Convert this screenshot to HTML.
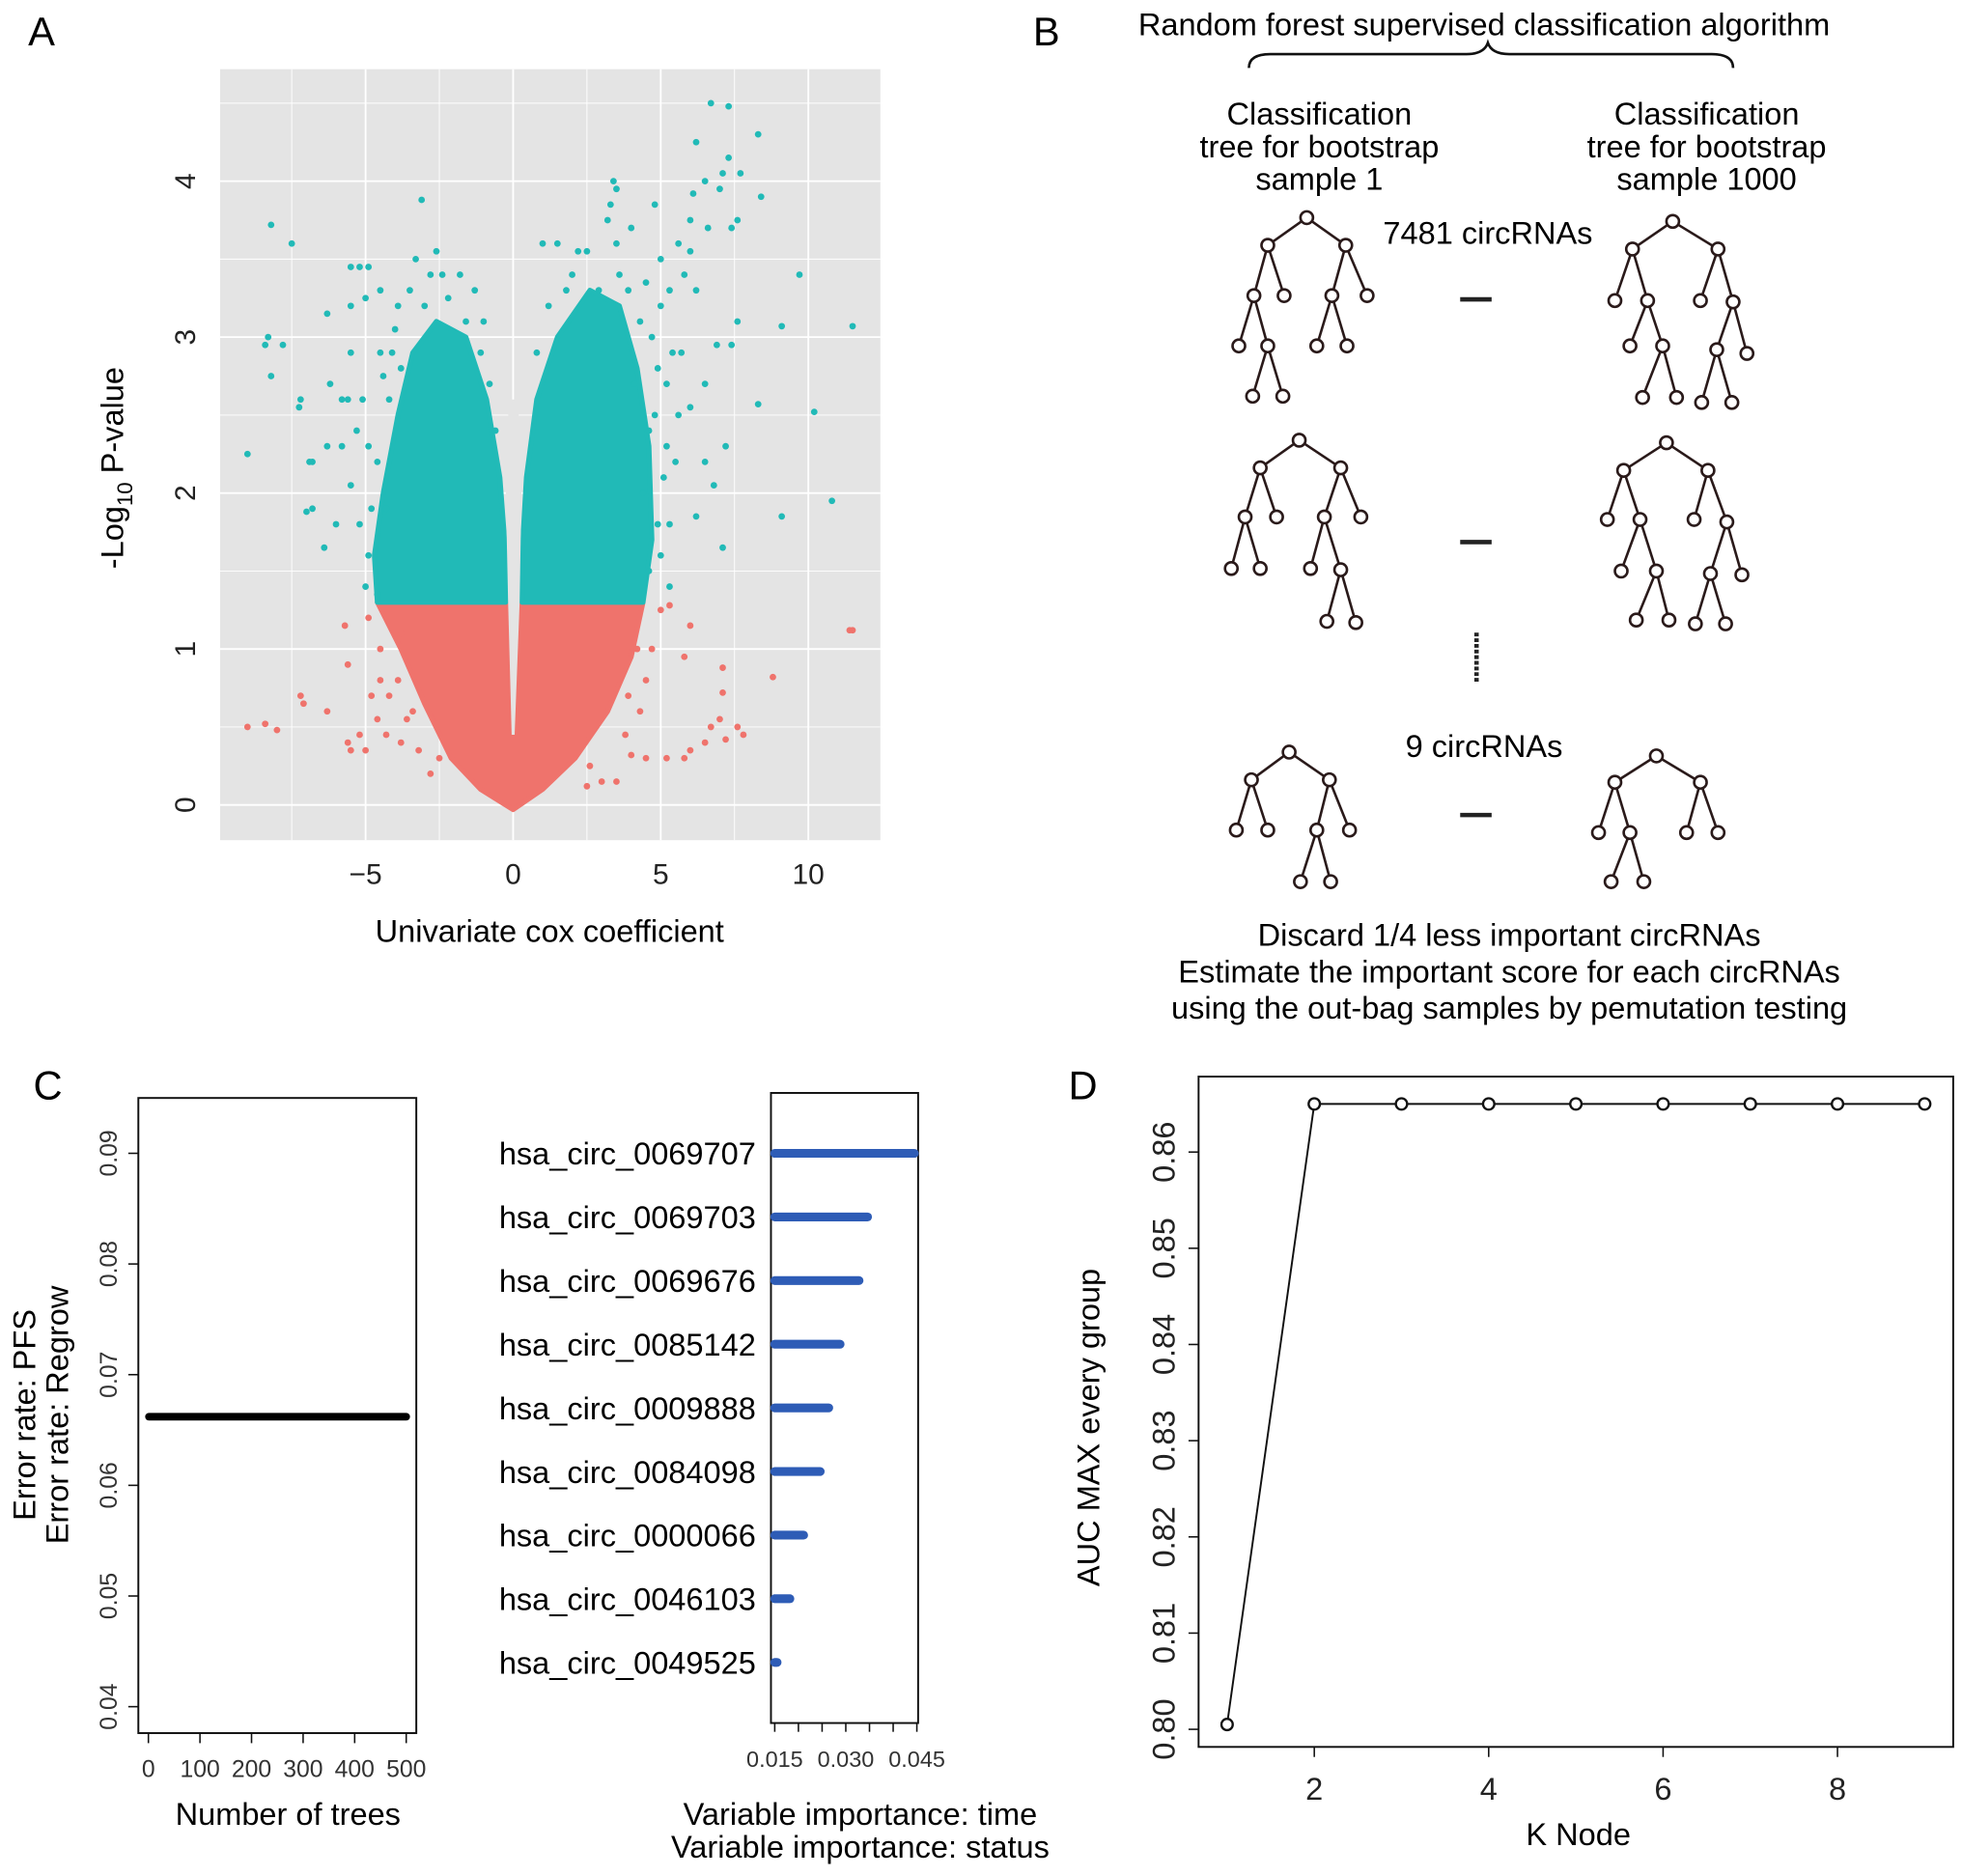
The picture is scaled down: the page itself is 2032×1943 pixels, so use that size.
<!DOCTYPE html>
<html><head><meta charset="utf-8"><style>
html,body{margin:0;padding:0;background:#fff;}
svg{display:block;font-family:"Liberation Sans",Arial,sans-serif;}
</style></head><body>
<svg id="fig" width="2032" height="1943" viewBox="0 0 1560 1491.6" xmlns="http://www.w3.org/2000/svg">
<g id="A"></g>
<g id="B"></g>
<g id="C"></g>
<g id="D"></g>
</svg>
<script>
// ---------- Panel A data ----------
const aXTicks = [-5, 0, 5, 10];
const aYTicks = [0, 1, 2, 3, 4];
const teal = [[-8.2,3.72],[-7.5,3.6],[-8.3,3.0],[-8.4,2.95],[-8.2,2.75],[-7.8,2.95],[-9,2.25],[-7.2,2.6],[-7.25,2.55],[-6.9,2.2],[-6.8,2.2],[-7,1.88],[-6.8,1.9],[-6.3,2.3],[-6.2,2.7],[-6.3,3.15],[-6.4,1.65],[-6,1.8],[-5.8,2.6],[-5.5,3.45],[-5.2,3.45],[-4.9,3.45],[-5,3.25],[-5.5,3.2],[-4.5,3.3],[-3.1,3.88],[-3.3,3.5],[-2.6,3.55],[-2.8,3.4],[-1.8,3.4],[-1.3,3.3],[-1.0,3.1],[-5.5,2.9],[-5.6,2.6],[-5.3,2.4],[-5.8,2.3],[-5.5,2.05],[-5.2,1.8],[-4.9,1.6],[-5.0,1.4],[-4.6,1.35],[-4.5,2.9],[-4,3.05],[-4.2,2.6],[-4.6,2.2],[-4.3,1.9],[-4.8,1.9],[-4.9,2.3],[-5.1,2.6],[-4.4,2.75],[-3.9,3.2],[-3.5,3.3],[-2.2,3.25],[-1.6,3.1],[-1.1,2.9],[-0.8,2.7],[-3.0,3.2],[-2.4,3.4],[-4.1,2.9],[-3.8,2.8],[-0.6,2.4],
[6.7,4.5],[7.3,4.48],[8.3,4.3],[6.2,4.25],[7.3,4.15],[6.5,4.0],[7.1,4.05],[7.7,4.05],[8.4,3.9],[6.1,3.92],[7.0,3.95],[6.0,3.75],[7.4,3.7],[7.6,3.75],[6.6,3.7],[3.4,4.0],[3.5,3.95],[3.3,3.85],[3.2,3.75],[4.8,3.85],[9.7,3.4],[11.5,3.07],[9.1,3.07],[8.3,2.57],[10.2,2.52],[10.8,1.95],[9.1,1.85],[7.1,1.65],[6.8,2.05],[6.2,1.85],[6.5,2.2],[7.2,2.3],[6.0,2.55],[6.5,2.7],[6.9,2.95],[7.6,3.1],[7.4,2.95],[6.2,3.3],[6.0,3.55],[5.8,3.4],[5.3,3.3],[4.5,3.35],[1.0,3.6],[1.5,3.6],[2.2,3.55],[2.5,3.55],[3.5,3.6],[4.0,3.7],[5.6,3.6],[5.0,3.5],[5.4,2.9],[5.7,2.9],[5.5,2.2],[5.3,1.8],[5.0,1.6],[5.3,1.4],[4.6,1.5],[4.8,2.5],[5.2,2.7],[4.4,2.0],[4.7,3.0],[3.9,3.3],[2.9,3.3],[1.8,3.3],[5.1,2.1],[4.9,1.8],[5.6,2.5],[4.3,3.1],[3.6,3.4],[4.1,2.7],[5.0,3.2],[4.9,2.8],[1.2,3.2],[0.8,2.9],[2.0,3.4],[4.6,2.4],[5.2,2.3]];
const red = [[11.5,1.12],[11.4,1.12],[8.8,0.82],[7.1,0.88],[7.1,0.72],[6.0,1.15],[5.8,0.95],[5.0,1.25],[5.3,1.28],[4.7,1.0],[7.0,0.55],[6.7,0.5],[7.6,0.5],[7.8,0.45],[7.2,0.42],[6.5,0.4],[6,0.35],[5.8,0.3],[5.2,0.3],[4.5,0.3],[4.0,0.32],[3.5,0.15],[3.0,0.15],[2.5,0.12],[-9.0,0.5],[-8.4,0.52],[-8.0,0.48],[-7.2,0.7],[-7.1,0.65],[-6.3,0.6],[-5.7,1.15],[-5.6,0.9],[-5.6,0.4],[-5.5,0.35],[-5.2,0.45],[-4.8,0.7],[-4.6,0.55],[-5.0,0.35],[-4.3,0.45],[-3.8,0.4],[-3.6,0.55],[-3.2,0.35],[-2.8,0.2],[-4.5,0.8],[-4.5,1.0],[-3.8,1.1],[-4.9,1.2],[4.3,0.6],[3.8,0.45],[-4.2,0.7],[-3.9,0.8],[-3.4,0.6],[4.5,0.8],[4.2,1.0],[3.9,0.7],[-2.5,0.3],[2.6,0.25]];
// dense cloud envelopes (data units)
const tealLeftCloud = [[-0.25,1.3],[-4.6,1.3],[-4.7,1.6],[-4.4,2.0],[-3.9,2.5],[-3.4,2.9],[-2.6,3.1],[-1.6,3.0],[-0.9,2.6],[-0.45,2.1],[-0.25,1.6]];
const tealRightCloud = [[0.3,1.3],[4.4,1.3],[4.7,1.7],[4.6,2.3],[4.2,2.8],[3.6,3.2],[2.6,3.3],[1.5,3.0],[0.8,2.6],[0.45,2.1],[0.3,1.6]];
const redCloud = [[-4.6,1.3],[-3.8,1.0],[-3.0,0.65],[-2.1,0.3],[-1.1,0.1],[0,-0.03],[1.0,0.1],[2.1,0.3],[3.2,0.6],[4.0,0.95],[4.4,1.3]];
const gapWedge = [[-0.17,1.3],[-0.05,0.45],[0.05,0.45],[0.22,1.3],[0.3,2.2],[0.15,2.6],[-0.15,2.6],[-0.25,2.0]];

// ---------- Panel C data ----------
const cTreeTicks = [0,100,200,300,400,500];
const cErrTicks = [0.04,0.05,0.06,0.07,0.08,0.09];
const cErrTrees = [1,500];
const cErrValues = [0.0662,0.0662];
const varNames = ["hsa_circ_0069707","hsa_circ_0069703","hsa_circ_0069676","hsa_circ_0085142","hsa_circ_0009888","hsa_circ_0084098","hsa_circ_0000066","hsa_circ_0046103","hsa_circ_0049525"];
const varImportance = [0.045,0.0346,0.0328,0.0288,0.0264,0.0246,0.0211,0.0182,0.0155];
const impTicks = [0.015,0.020,0.025,0.030,0.035,0.040,0.045];
const impTickLabels = ["0.015","","","0.030","","","0.045"];

// ---------- Panel D data ----------
const kNodes = [1,2,3,4,5,6,7,8,9];
const aucMax = [0.8005,0.865,0.865,0.865,0.865,0.865,0.865,0.865,0.865];
const dXTicks = [2,4,6,8];
const dYTicks = [0.80,0.81,0.82,0.83,0.84,0.85,0.86];

const NS="http://www.w3.org/2000/svg";
function el(parent,tag,attrs,text){const e=document.createElementNS(NS,tag);for(const k in attrs)e.setAttribute(k,attrs[k]);if(text!==undefined)e.textContent=text;parent.appendChild(e);return e;}

// ===== Panel A =====
(function(){
const g=document.getElementById('A');
const xA=v=>408+v*23.47, yA=v=>640-v*124;
const L=175,R=700,T=55,Bt=668;
let t=el(g,'text',{x:33,y:36,'font-size':32,'text-anchor':'middle'},'A');

let bg=el(g,'rect',{x:L,y:T,width:R-L,height:Bt-T,fill:'#E4E4E4'});

for(let v=-7.5;v<=12.5;v+=2.5){const x=xA(v);if(x<L||x>R)continue;const major=Number.isInteger(v/5);
 const l=el(g,'line',{x1:x,x2:x,y1:T,y2:Bt,stroke:'#fff','stroke-width':major?1.4:0.7});
 }
for(let v=0;v<=4.5;v+=0.5){const y=yA(v);const major=Number.isInteger(v);
 const l=el(g,'line',{x1:L,x2:R,y1:y,y2:y,stroke:'#fff','stroke-width':major?1.4:0.7});
 }
const poly=(arr,fill,name)=>{const p=el(g,'polygon',{points:arr.map(d=>xA(d[0])+','+yA(d[1])).join(' '),fill:fill,stroke:fill,'stroke-width':4,'stroke-linejoin':'round'});
 };
poly(redCloud,'#EF736C','nonsignificant-cloud');
poly(tealLeftCloud,'#21BAB7','significant-cloud-left');
poly(tealRightCloud,'#21BAB7','significant-cloud-right');
const gp=el(g,'polygon',{points:gapWedge.map(d=>xA(d[0])+','+yA(d[1])).join(' '),fill:'#E4E4E4'});

teal.forEach(d=>{const c=el(g,'circle',{cx:xA(d[0]),cy:yA(d[1]),r:2.6,fill:'#21BAB7'});
 });
red.forEach(d=>{const c=el(g,'circle',{cx:xA(d[0]),cy:yA(d[1]),r:2.6,fill:'#EF736C'});
 });
aXTicks.forEach(v=>{const tx=el(g,'text',{x:xA(v),y:703,'font-size':23,'text-anchor':'middle',fill:'#222'},v<0?'\u2212'+Math.abs(v):String(v));
 });
aYTicks.forEach(v=>{const tx=el(g,'text',{x:0,y:0,'font-size':23,'text-anchor':'middle',fill:'#222',transform:`translate(155,${yA(v)}) rotate(-90)`},String(v));
 });
t=el(g,'text',{x:437,y:749,'font-size':25,'text-anchor':'middle'},'Univariate cox coefficient');

t=el(g,'text',{x:0,y:0,'font-size':25,'text-anchor':'middle',transform:'translate(98,372) rotate(-90)'});

t.innerHTML='-Log<tspan font-size="17" dy="7">10</tspan><tspan dy="-7"> P-value</tspan>';
})();

// ===== Panel B =====
const trees=[
 [[1039,173,-1],[1008,195,0],[1070,195,0],[997,235,1],[1021,235,1],[1059,235,2],[1087,235,2],[985,275,3],[1008,275,3],[996,315,8],[1020,315,8],[1047,275,5],[1071,275,5]],
 [[1330,176,-1],[1298,198,0],[1366,198,0],[1284,239,1],[1310,239,1],[1352,239,2],[1378,240,2],[1296,275,4],[1322,275,4],[1306,316,8],[1333,316,8],[1365,278,6],[1389,281,6],[1353,320,11],[1377,320,11]],
 [[1033,350,-1],[1002,372,0],[1066,372,0],[990,411,1],[1015,411,1],[1053,411,2],[1082,411,2],[979,452,3],[1002,452,3],[1042,452,5],[1066,453,5],[1055,494,10],[1078,495,10]],
 [[1325,352,-1],[1291,374,0],[1358,374,0],[1278,413,1],[1304,413,1],[1347,413,2],[1373,415,2],[1289,454,4],[1317,454,4],[1360,456,6],[1385,457,6],[1301,493,8],[1327,493,8],[1348,496,9],[1372,496,9]],
 [[1025,598,-1],[995,620,0],[1057,620,0],[983,660,1],[1008,660,1],[1047,660,2],[1073,660,2],[1034,701,5],[1058,701,5]],
 [[1317,601,-1],[1284,622,0],[1352,622,0],[1271,662,1],[1296,662,1],[1341,662,2],[1366,662,2],[1281,701,4],[1307,701,4]]
];
(function(){
const g=document.getElementById('B');
let t=el(g,'text',{x:832,y:36,'font-size':32,'text-anchor':'middle'},'B');

t=el(g,'text',{x:1180,y:28,'font-size':25,'text-anchor':'middle'},'Random forest supervised classification algorithm');

const br=el(g,'path',{d:'M993,54 Q993,43 1010,43 L1166,43 Q1180,43 1183,34 Q1186,43 1200,43 L1361,43 Q1378,43 1378,54',fill:'none',stroke:'#111','stroke-width':2});

[[1049,'sample 1'],[1357,'sample 1000']].forEach(([cx,s])=>{
 ['Classification','tree for bootstrap',s].forEach((line,i)=>{const tx=el(g,'text',{x:cx,y:99+i*26,'font-size':25,'text-anchor':'middle'},line);
 });});
t=el(g,'text',{x:1183,y:194,'font-size':25,'text-anchor':'middle'},'7481 circRNAs');

t=el(g,'text',{x:1180,y:602,'font-size':25,'text-anchor':'middle'},'9 circRNAs');

trees.forEach(tr=>{const tg=el(g,'g',{});
 
 tr.forEach(n=>{if(n[2]>=0){const p=tr[n[2]];el(tg,'line',{x1:p[0],y1:p[1],x2:n[0],y2:n[1],stroke:'#2a1a1a','stroke-width':2});}});
 tr.forEach(n=>{el(tg,'circle',{cx:n[0],cy:n[1],r:5,fill:'#fff',stroke:'#2a1a1a','stroke-width':2});});});
[238,431,648].forEach(y=>{const d=el(g,'line',{x1:1161,x2:1186,y1:y,y2:y,stroke:'#222','stroke-width':3.5});
 });
const vd=el(g,'line',{x1:1174,x2:1174,y1:503,y2:542,stroke:'#222','stroke-width':3.5,'stroke-dasharray':'3 1.5'});

['Discard 1/4 less important circRNAs','Estimate the important score for each circRNAs','using the out-bag samples by pemutation testing'].forEach((s,i)=>{
 const tx=el(g,'text',{x:1200,y:752+i*29,'font-size':25,'text-anchor':'middle'},s);
 });
})();

// ===== Panel C =====
(function(){
const g=document.getElementById('C');
let t=el(g,'text',{x:38,y:874,'font-size':32,'text-anchor':'middle'},'C');

const xT=v=>118+v*(323-118)/500, yE=v=>917+(0.09-v)*8800;
let b=el(g,'rect',{x:110,y:873,width:221,height:505,fill:'none',stroke:'#111','stroke-width':1.5});

cTreeTicks.forEach(v=>{el(g,'line',{x1:xT(v),x2:xT(v),y1:1378,y2:1386,stroke:'#111','stroke-width':1.2});
 const tx=el(g,'text',{x:xT(v),y:1413,'font-size':19,'text-anchor':'middle',fill:'#333'},String(v));
 });
cErrTicks.forEach(v=>{el(g,'line',{x1:102,x2:110,y1:yE(v),y2:yE(v),stroke:'#111','stroke-width':1.2});
 const tx=el(g,'text',{x:0,y:0,'font-size':19,'text-anchor':'middle',fill:'#333',transform:`translate(93,${yE(v)}) rotate(-90)`},v.toFixed(2));
 });
const ln=el(g,'polyline',{points:cErrTrees.map((v,i)=>xT(v)+','+yE(cErrValues[i])).join(' '),stroke:'#000','stroke-width':6,fill:'none','stroke-linecap':'round'});

t=el(g,'text',{x:229,y:1451,'font-size':25,'text-anchor':'middle'},'Number of trees');

t=el(g,'text',{x:0,y:0,'font-size':25,'text-anchor':'middle',transform:'translate(28,1125) rotate(-90)'},'Error rate: PFS');

t=el(g,'text',{x:0,y:0,'font-size':25,'text-anchor':'middle',transform:'translate(54,1125) rotate(-90)'},'Error rate: Regrow');

// importance
const xI=v=>616+(v-0.015)*(729-616)/0.030;
b=el(g,'rect',{x:613,y:869,width:117,height:501,fill:'none',stroke:'#111','stroke-width':1.5});

impTicks.forEach((v,i)=>{el(g,'line',{x1:xI(v),x2:xI(v),y1:1370,y2:1377,stroke:'#111','stroke-width':1.2});
 if(impTickLabels[i]){const tx=el(g,'text',{x:xI(v),y:1405,'font-size':18,'text-anchor':'middle',fill:'#333'},impTickLabels[i]);
 }});
varNames.forEach((n,i)=>{const y=917+i*50.6;
 const tx=el(g,'text',{x:601,y:y+9,'font-size':25,'text-anchor':'end'},n);
 
 const bar=el(g,'line',{x1:616,x2:Math.min(xI(varImportance[i]),727),y1:y,y2:y,stroke:'#2E5CB6','stroke-width':7,'stroke-linecap':'round'});
 });
t=el(g,'text',{x:684,y:1451,'font-size':25,'text-anchor':'middle'},'Variable importance: time');

t=el(g,'text',{x:684,y:1477,'font-size':25,'text-anchor':'middle'},'Variable importance: status');

})();

// ===== Panel D =====
(function(){
const g=document.getElementById('D');
let t=el(g,'text',{x:861,y:874,'font-size':32,'text-anchor':'middle'},'D');

const xK=v=>1045+(v-2)*(1461-1045)/6, yA=v=>1375-(v-0.80)*7650;
const b=el(g,'rect',{x:953,y:856,width:600,height:533,fill:'none',stroke:'#111','stroke-width':1.5});

dXTicks.forEach(v=>{el(g,'line',{x1:xK(v),x2:xK(v),y1:1389,y2:1397,stroke:'#111','stroke-width':1.2});
 const tx=el(g,'text',{x:xK(v),y:1431,'font-size':25,'text-anchor':'middle',fill:'#222'},String(v));
 });
dYTicks.forEach(v=>{el(g,'line',{x1:945,x2:953,y1:yA(v),y2:yA(v),stroke:'#111','stroke-width':1.2});
 const tx=el(g,'text',{x:0,y:0,'font-size':25,'text-anchor':'middle',fill:'#222',transform:`translate(934,${yA(v)}) rotate(-90)`},v.toFixed(2));
 });
const ln=el(g,'polyline',{points:kNodes.map((k,i)=>xK(k)+','+yA(aucMax[i])).join(' '),stroke:'#111','stroke-width':1.5,fill:'none'});

kNodes.forEach((k,i)=>{const c=el(g,'circle',{cx:xK(k),cy:yA(aucMax[i]),r:4.5,fill:'#fff',stroke:'#111','stroke-width':1.8});
 });
t=el(g,'text',{x:1255,y:1467,'font-size':25,'text-anchor':'middle'},'K Node');

t=el(g,'text',{x:0,y:0,'font-size':25,'text-anchor':'middle',transform:'translate(874,1135) rotate(-90)'},'AUC MAX every group');

})();
</script>
</body></html>
